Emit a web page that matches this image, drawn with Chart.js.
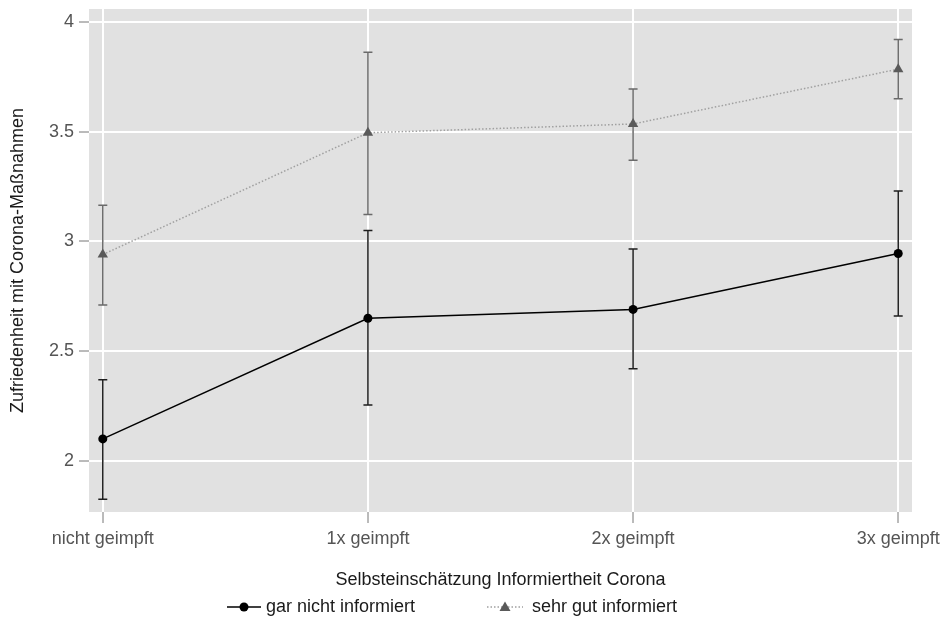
<!DOCTYPE html>
<html>
<head>
<meta charset="utf-8">
<script src="https://cdn.jsdelivr.net/npm/chart.js@4"></script>
<style>
  html, body { margin: 0; padding: 0; background: #fff; }
  #wrap { width: 950px; height: 620px; }
</style>
</head>
<body>
<div id="wrap"><canvas id="vaxChart"></canvas></div>
<script>
let categories = [`nicht geimpft`, `1x geimpft`, `2x geimpft`, `3x geimpft`]
let yTicks = [2, 2.5, 3, 3.5, 4]

let garNicht = [2.10, 2.65, 2.69, 2.945]
let garNichtLo = [1.825, 2.255, 2.42, 2.66]
let garNichtHi = [2.37, 3.05, 2.965, 3.23]

let sehrGut = [2.94, 3.495, 3.535, 3.785]
let sehrGutLo = [2.71, 3.123, 3.37, 3.65]
let sehrGutHi = [3.165, 3.862, 3.695, 3.92]

const FONT = `"Liberation Sans", Arial, sans-serif`

function toPoints(vals) {
    return vals.map((v, i) => {
        return {x: i, y: v}
    })
}

// gray panel behind the grid
const panelBg = {
    id: `panelBg`,
    beforeDraw(chart) {
        const {ctx, chartArea: a} = chart
        ctx.save()
        ctx.fillStyle = `#e1e1e1`
        ctx.fillRect(a.left, a.top, a.right - a.left, a.bottom - a.top)
        ctx.restore()
    }
}

// error bars, drawn before the markers
const errorBars = {
    id: `errorBars`,
    beforeDatasetsDraw(chart) {
        const {ctx, scales} = chart
        const sets = [
            {lo: sehrGutLo, hi: sehrGutHi, color: `#6a6a6a`},
            {lo: garNichtLo, hi: garNichtHi, color: `#1e1e1e`}
        ]
        ctx.save()
        ctx.lineWidth = 1.5
        sets.forEach((s) => {
            ctx.strokeStyle = s.color
            s.lo.forEach((lo, i) => {
                const x = scales.x.getPixelForValue(i)
                const y1 = scales.y.getPixelForValue(lo)
                const y2 = scales.y.getPixelForValue(s.hi[i])
                ctx.beginPath()
                ctx.moveTo(x, y1); ctx.lineTo(x, y2)
                ctx.moveTo(x - 4.5, y1); ctx.lineTo(x + 4.5, y1)
                ctx.moveTo(x - 4.5, y2); ctx.lineTo(x + 4.5, y2)
                ctx.stroke()
            })
        })
        ctx.restore()
    }
}

// legend below the axis title
const bottomLegend = {
    id: `bottomLegend`,
    afterDraw(chart) {
        const {ctx} = chart
        const y = 607
        ctx.save()
        ctx.font = `18px ${FONT}`
        ctx.textBaseline = `middle`

        ctx.strokeStyle = `#000`
        ctx.lineWidth = 1.5
        ctx.beginPath(); ctx.moveTo(227, y); ctx.lineTo(261, y); ctx.stroke()
        ctx.fillStyle = `#000`
        ctx.beginPath(); ctx.arc(244, y, 4.5, 0, Math.PI * 2); ctx.fill()
        ctx.fillStyle = `#1a1a1a`
        ctx.fillText(`gar nicht informiert`, 266, y)

        ctx.strokeStyle = `#a0a0a0`
        ctx.setLineDash([1.5, 2])
        ctx.beginPath(); ctx.moveTo(487, y); ctx.lineTo(523, y); ctx.stroke()
        ctx.setLineDash([])
        ctx.fillStyle = `#5a5a5a`
        ctx.beginPath()
        ctx.moveTo(505, y - 5.5); ctx.lineTo(510.5, y + 4); ctx.lineTo(499.5, y + 4)
        ctx.closePath(); ctx.fill()
        ctx.fillStyle = `#1a1a1a`
        ctx.fillText(`sehr gut informiert`, 532, y)
        ctx.restore()
    }
}

function vaxChart() {
    const ctx = document.getElementById(`vaxChart`)

    new Chart(ctx, {
        type: `line`,
        data: {
            datasets: [{
                label: `sehr gut informiert`,
                data: toPoints(sehrGut),
                borderColor: `#a0a0a0`,
                borderWidth: 1.5,
                borderDash: [1.5, 2],
                pointStyle: `triangle`,
                pointRadius: 6,
                pointBackgroundColor: `#5a5a5a`,
                pointBorderColor: `#5a5a5a`,
                pointBorderWidth: 0,
                tension: 0
            }, {
                label: `gar nicht informiert`,
                data: toPoints(garNicht),
                borderColor: `#000`,
                borderWidth: 1.5,
                pointStyle: `circle`,
                pointRadius: 4.5,
                pointBackgroundColor: `#000`,
                pointBorderColor: `#000`,
                pointBorderWidth: 0,
                tension: 0
            }]
        },
        options: {
            responsive: true,
            maintainAspectRatio: false,
            animation: false,
            layout: {padding: {top: 9, right: 38, left: 0, bottom: 0}},
            plugins: {
                legend: {display: false},
                tooltip: {enabled: false}
            },
            scales: {
                x: {
                    type: `linear`,
                    min: -0.052,
                    max: 3.052,
                    afterBuildTicks: (s) => { s.ticks = categories.map((c, i) => ({value: i})) },
                    afterFit: (s) => { s.height = 108; s.paddingLeft = 0; s.paddingRight = 0 },
                    border: {display: false},
                    grid: {color: `#fff`, lineWidth: 2, tickColor: `#777`, tickLength: 11, tickWidth: 1},
                    ticks: {
                        padding: 5,
                        color: `#555`,
                        font: {family: FONT, size: 18},
                        maxRotation: 0,
                        callback: (v) => categories[v]
                    },
                    title: {
                        display: true,
                        text: `Selbsteinschätzung Informiertheit Corona`,
                        color: `#1a1a1a`,
                        font: {family: FONT, size: 18, lineHeight: 1.2},
                        padding: {top: 0, bottom: 29}
                    }
                },
                y: {
                    min: 1.767,
                    max: 4.059,
                    afterBuildTicks: (s) => { s.ticks = yTicks.map((v) => ({value: v})) },
                    afterFit: (s) => { s.width = 89; s.paddingTop = 0; s.paddingBottom = 0 },
                    border: {display: false},
                    grid: {color: `#fff`, lineWidth: 2, tickColor: `#777`, tickLength: 10, tickWidth: 1},
                    ticks: {
                        padding: 5,
                        color: `#555`,
                        font: {family: FONT, size: 18},
                        callback: (v) => String(v)
                    },
                    title: {
                        display: true,
                        text: `Zufriedenheit mit Corona-Maßnahmen`,
                        color: `#1a1a1a`,
                        font: {family: FONT, size: 18, lineHeight: 1.2},
                        padding: {top: 7, bottom: 0}
                    }
                }
            }
        },
        plugins: [panelBg, errorBars, bottomLegend]
    })
}

vaxChart()
</script>
</body>
</html>
